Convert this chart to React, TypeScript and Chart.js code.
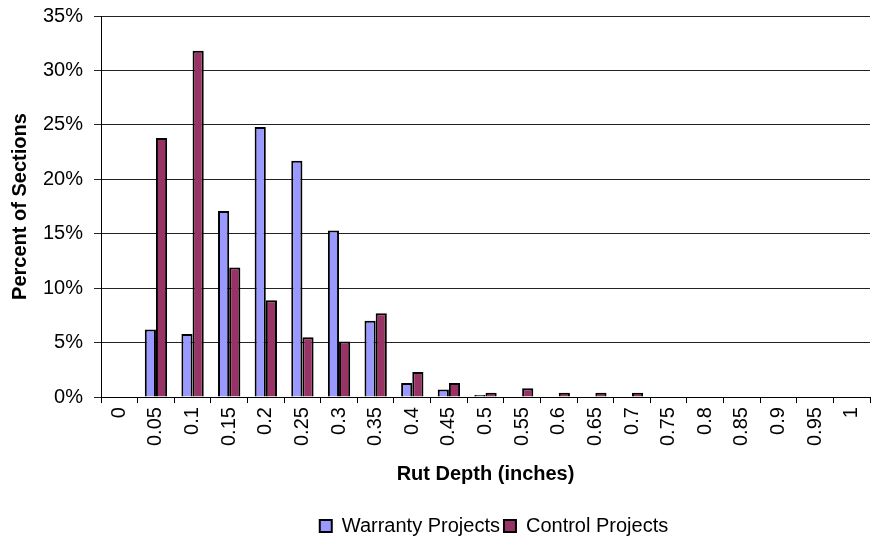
import React, { useEffect, useRef } from "react";
import { Chart, registerables } from "chart.js";

Chart.register(...registerables);

const categories = ["0", "0.05", "0.1", "0.15", "0.2", "0.25", "0.3", "0.35", "0.4", "0.45", "0.5", "0.55", "0.6", "0.65", "0.7", "0.75", "0.8", "0.85", "0.9", "0.95", "1"];
const warranty = [0, 6.2, 5.8, 17.1, 24.8, 21.7, 15.3, 7.0, 1.3, 0.7, 0.2, 0, 0, 0, 0, 0, 0, 0, 0, 0, 0];
const control = [0, 23.8, 31.8, 11.9, 8.9, 5.5, 5.1, 7.7, 2.3, 1.3, 0.4, 0.8, 0.4, 0.4, 0.4, 0, 0, 0, 0, 0, 0];
const yTicks = [0, 5, 10, 15, 20, 25, 30, 35];

const legendShift = {
  id: "legendShift",
  afterLayout(chart: any) {
    if (chart.legend) {
      chart.legend.left += 55;
      chart.legend.right += 55;
    }
  },
};

export default function App() {
  const ref = useRef<HTMLCanvasElement>(null);
  useEffect(() => {
    document.body.style.margin = "0";
    const font = "'Liberation Sans', Arial, sans-serif";
    const chart = new Chart(ref.current!, {
      type: "bar",
      data: {
        labels: categories,
        datasets: [
          { label: "Warranty Projects", data: warranty, backgroundColor: "#9999FF", borderColor: "#000", borderWidth: 2 },
          { label: "Control Projects", data: control, backgroundColor: "#993366", borderColor: "#000", borderWidth: 2 },
        ],
      },
      plugins: [legendShift],
      options: {
        animation: false,
        responsive: false,
        layout: { padding: { left: 8, right: 19, top: 16, bottom: -5 } },
        datasets: { bar: { categoryPercentage: 0.61, barPercentage: 1 } },
        plugins: {
          tooltip: { enabled: false },
          legend: {
            position: "bottom",
            labels: { font: { family: font, size: 20 }, color: "#000", boxWidth: 12, boxHeight: 12, padding: 4 },
          },
        },
        scales: {
          x: {
            grid: { drawOnChartArea: false, drawTicks: true, tickLength: 6, color: "#000", offset: true },
            border: { color: "#000", width: 1 },
            ticks: { minRotation: 90, maxRotation: 90, font: { family: font, size: 20 }, color: "#000", padding: 4, autoSkip: false },
            title: { display: true, text: "Rut Depth (inches)", font: { family: font, size: 20, weight: "bold" }, color: "#000", padding: { top: 12, bottom: 26 } },
          },
          y: {
            min: 0,
            max: 35,
            afterBuildTicks: (axis: any) => { axis.ticks = yTicks.map((v) => ({ value: v })); },
            afterFit: (axis: any) => { axis.paddingTop = 0; },
            grid: { color: "#222", lineWidth: 1, tickLength: 7, drawTicks: true },
            border: { color: "#000", width: 1 },
            ticks: { callback: (v: any) => v + "%", font: { family: font, size: 20 }, color: "#000", padding: 11 },
            title: { display: true, text: "Percent of Sections", font: { family: font, size: 20, weight: "bold" }, color: "#000", padding: { top: 0, bottom: 0 } },
          },
        },
      },
    });
    return () => chart.destroy();
  }, []);
  return <canvas ref={ref} width={889} height={541} style={{ display: "block" }} />;
}
